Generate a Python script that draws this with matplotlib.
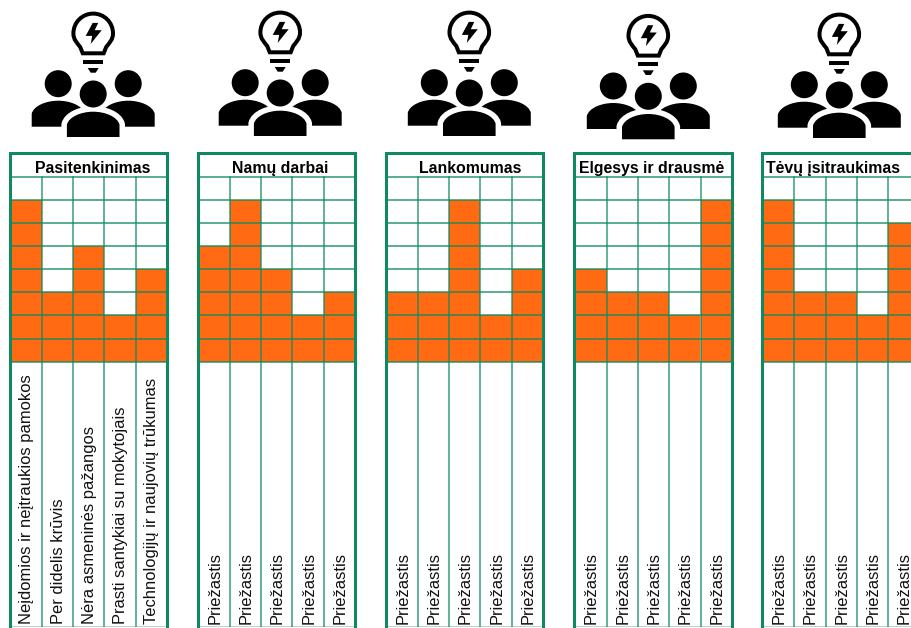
import matplotlib
matplotlib.use("Agg")
import matplotlib.pyplot as plt
from matplotlib.patches import Circle, PathPatch, Polygon
from matplotlib.path import Path

plt.rcParams['font.family'] = ['Liberation Sans', 'DejaVu Sans']

W, H = 911, 628
GREEN = '#0F8A5F'
ORANGE = '#FF6A13'

panel_titles = ['Pasitenkinimas', 'Namų darbai', 'Lankomumas', 'Elgesys ir drausmė', 'Tėvų įsitraukimas']
first_reasons = ['Neįdomios ir neįtraukios pamokos', 'Per didelis krūvis', 'Nėra asmeninės pažangos',
                 'Prasti santykiai su mokytojais', 'Technologijų ir naujovių trūkumas']
generic_reasons = ['Priežastis'] * 5
panel_reasons = [first_reasons, generic_reasons, generic_reasons, generic_reasons, generic_reasons]
panel_1 = [7, 3, 5, 2, 4]
panel_2 = [5, 7, 4, 2, 3]
panel_3 = [3, 3, 7, 2, 4]
panel_4 = [4, 3, 3, 2, 7]
panel_5 = [7, 3, 3, 2, 6]
panel_values = [panel_1, panel_2, panel_3, panel_4, panel_5]

panel_left = [10.5, 198.5, 386.5, 575.3, 763.0]
title_center_px = [93, 280, 470, 651.5, 833.5]
icon_pos = [(93.2, 0), (280.2, -1), (469.3, -1), (648.3, 2.3), (839.3, 1)]
CW, RH = 31.3, 23.1
Y0 = 361.7
TOP = 152.7
BOT = 627.0
LW = 0.72

fig = plt.figure(figsize=(W / 100, H / 100), dpi=100)
fig.patch.set_facecolor('white')


def panel(left, title, title_cx, values, reasons):
    axw = CW * 5
    ax = fig.add_axes([left / W, 1 - BOT / H, axw / W, (BOT - TOP) / H])
    ax.set_xlim(0, 5)
    ax.set_ylim(-(BOT - Y0) / RH, (Y0 - TOP) / RH)
    ax.bar(range(5), values, width=1, align='edge', color=ORANGE, linewidth=0, zorder=1)
    for x in range(1, 5):
        ax.axvline(x, ymax=1 - 24.0 / (BOT - TOP), color=GREEN, lw=1.5 * LW, zorder=2, alpha=0.85)
    for y in range(0, 9):
        ax.axhline(y, color=GREEN, lw=1.5 * LW, zorder=2, alpha=0.9)
    ax.axhline(-(BOT - Y0) / RH, color=GREEN, lw=1.5 * LW, alpha=0.4, zorder=2)
    ax.set_xticks([])
    ax.set_yticks([])
    for s in ax.spines.values():
        s.set_visible(False)
    for s in ('left', 'right', 'top'):
        ax.spines[s].set_visible(True)
        ax.spines[s].set_color(GREEN)
        ax.spines[s].set_linewidth(3 * LW)
    ax.spines['left'].set_position(('outward', 0.7))
    ax.patch.set_alpha(0)
    ax.text((title_cx - left) / CW, 8.38, title, ha='center', va='center', fontsize=11.4, fontweight='bold',
            color='black', zorder=5, clip_on=False)
    ylow = -(BOT - Y0) / RH
    for i, r in enumerate(reasons):
        ax.text(i + 0.52, ylow + 2.6 / RH, r, rotation=90, ha='center', va='bottom', fontsize=11.9,
                color='#111111', zorder=5)


for l, t, c, v, r in zip(panel_left, panel_titles, title_center_px, panel_values, panel_reasons):
    panel(l, t, c, v, r)

# icon layer in pixel coordinates
ov = fig.add_axes([0, 0, 1, 1], zorder=10)
ov.set_xlim(0, W)
ov.set_ylim(H, 0)
ov.axis('off')


def body(cx, top, bottom, half, z, outline=False):
    verts = [(cx - half, bottom), (cx - half, top + 13),
             (cx - half + 2, top + 5), (cx - 12, top), (cx, top),
             (cx + 12, top), (cx + half - 2, top + 5), (cx + half, top + 13),
             (cx + half, bottom), (cx - half, bottom)]
    codes = [Path.MOVETO, Path.LINETO, Path.CURVE4, Path.CURVE4, Path.CURVE4,
             Path.CURVE4, Path.CURVE4, Path.CURVE4, Path.LINETO, Path.CLOSEPOLY]
    if outline:
        ov.add_patch(PathPatch(Path(verts, codes), fc='white', ec='white', lw=11 * LW, zorder=z - 0.5))
    ov.add_patch(PathPatch(Path(verts, codes), fc='black', ec='none', zorder=z))


def icon(cx, dy):
    # people
    for sx in (-35, 35):
        ov.add_patch(Circle((cx + sx, 83.7 + dy), 13.5, fc='black', ec='none', zorder=2))
        body(cx + sx, 100.7 + dy, 126.7 + dy, 26.5, 1)
    body(cx, 111.7 + dy, 137 + dy, 26.3, 4, outline=True)
    ov.add_patch(Circle((cx, 94 + dy), 15.5, fc='white', ec='none', zorder=4.5))
    ov.add_patch(Circle((cx, 94 + dy), 13.5, fc='black', ec='none', zorder=5))
    # bulb
    r, cy, k = 19.8, 33.4 + dy, 11.0
    bulb_v = [(cx - 10.5, 53.3 + dy), (cx - 13, 47 + dy),
              (cx - 16, 43 + dy), (cx - r, 40 + dy), (cx - r, cy),
              (cx - r, cy - k), (cx - k, cy - r), (cx, cy - r),
              (cx + k, cy - r), (cx + r, cy - k), (cx + r, cy),
              (cx + r, 40 + dy), (cx + 16, 43 + dy), (cx + 13, 47 + dy),
              (cx + 10.5, 53.3 + dy), (cx - 10.5, 53.3 + dy)]
    bulb_c = [Path.MOVETO, Path.LINETO, Path.CURVE4, Path.CURVE4, Path.CURVE4, Path.CURVE4, Path.CURVE4,
              Path.CURVE4, Path.CURVE4, Path.CURVE4, Path.CURVE4, Path.CURVE4, Path.CURVE4, Path.CURVE4,
              Path.LINETO, Path.CLOSEPOLY]
    ov.add_patch(PathPatch(Path(bulb_v, bulb_c), fc='white', ec='black', lw=4 * LW, zorder=3))
    bolt = [(-0.5, -10.5), (-7.5, 2.5), (-1, 2.5), (-2.5, 10.5), (8.5, -3.2), (1.5, -3.2), (5, -10.5)]
    ov.add_patch(Polygon([(cx + a, cy + b) for a, b in bolt], fc='black', ec='none', zorder=4))
    ov.add_patch(Polygon([(cx - 10, 60 + dy), (cx + 10, 60 + dy), (cx + 10, 64 + dy), (cx - 10, 64 + dy)],
                         fc='black', ec='none', zorder=4))
    ov.add_patch(Polygon([(cx - 5.5, 68 + dy), (cx + 5.5, 68 + dy), (cx + 2.5, 72.7 + dy), (cx - 2.5, 72.7 + dy)],
                         fc='black', ec='none', zorder=4))


for cx, dy in icon_pos:
    icon(cx, dy)

fig.savefig('out.png', dpi=100)
